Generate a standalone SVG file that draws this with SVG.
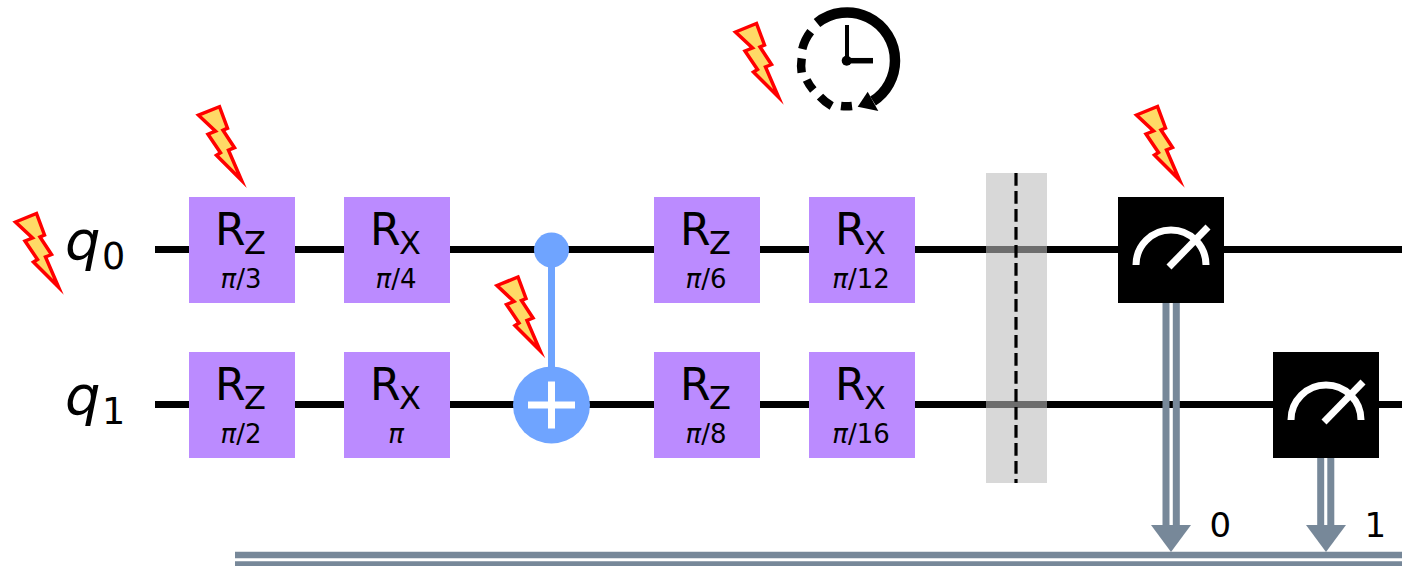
<svg xmlns="http://www.w3.org/2000/svg" width="1402" height="566" viewBox="0 0 1402 566">
<style>
text{font-family:"DejaVu Sans",sans-serif;fill:#000}
.wire{stroke:#000;stroke-width:7;fill:none}
.gate{fill:#BB8BFF}
.r{font-size:44px}
.z{font-size:32px}
.p{font-size:26px;text-anchor:middle;font-style:italic}
.pn{font-style:normal}
.q{font-size:56px;font-style:italic}
.s{font-size:36.500px}
.cl{stroke:#778899;fill:none}
.c{font-size:34px}
.bolt{fill:#FFD966;stroke:#FF0000;stroke-width:3.500;stroke-miterlimit:14}
.m{fill:#000}
.mi{stroke:#fff;stroke-width:7;fill:none}
.ck{stroke:#000;fill:none}
</style>
<defs>
<polygon id="bolt" class="bolt" points="-48.500,-73.500 -27.500,-82 -19.500,-60.500 -24,-58.500 -12.500,-41 -18.500,-38.500 -5.500,-8.500 -30.500,-33.500 -26.500,-36 -39,-54.500 -31.500,-57.500"/>
<g id="meter">
<rect class="m" x="0" y="0" width="106" height="106"/>
<path class="mi" d="M18 68 A35 35 0 0 1 88 68"/>
<path class="mi" d="M51 70 L90 30"/>
</g>
</defs>
<g id="connectors">
<path class="wire" d="M155 249.500H1402M155 404.500H1402"/>
<path d="M551.500 249V405" stroke="#6FA4FF" stroke-width="7" fill="none"/>
<path class="cl" stroke-width="7" d="M1166 303V525M1176.300 303V525M1320.700 458V525M1330.800 458V525"/>
<path class="cl" stroke-width="6.700" d="M235 555H1402M235 564.700H1402"/>
<polygon fill="#778899" points="1151,525 1191,525 1171,552"/>
<polygon fill="#778899" points="1306,525 1346,525 1326,552"/>
</g>
<g id="q0-label"><text class="q" x="65" y="260">q</text><text class="s" x="102" y="269">0</text></g>
<g id="q1-label"><text class="q" x="65" y="415">q</text><text class="s" x="102" y="424">1</text></g>
<g id="g1"><rect class="gate" x="189" y="197" width="106" height="106"/><text class="r" x="215" y="245">R</text><text class="z" x="244" y="254">Z</text><text class="p" x="241" y="288">π<tspan class="pn">/3</tspan></text></g>
<g id="g2"><rect class="gate" x="344" y="197" width="106" height="106"/><text class="r" x="370" y="245">R</text><text class="z" x="399" y="254">X</text><text class="p" x="396" y="288">π<tspan class="pn">/4</tspan></text></g>
<g id="g3"><rect class="gate" x="189" y="352" width="106" height="106"/><text class="r" x="215" y="400">R</text><text class="z" x="244" y="409">Z</text><text class="p" x="241" y="443">π<tspan class="pn">/2</tspan></text></g>
<g id="g4"><rect class="gate" x="344" y="352" width="106" height="106"/><text class="r" x="370" y="400">R</text><text class="z" x="399" y="409">X</text><text class="p" x="396" y="443">π</text></g>
<g id="cx">
<circle cx="551.500" cy="250" r="17.500" fill="#6FA4FF"/>
<circle cx="551.500" cy="405" r="38.500" fill="#6FA4FF"/>
<path d="M528 405H575M551.500 381.500V428.500" stroke="#fff" stroke-width="7" fill="none"/>
</g>
<g id="g5"><rect class="gate" x="654" y="197" width="106" height="106"/><text class="r" x="680" y="245">R</text><text class="z" x="709" y="254">Z</text><text class="p" x="706" y="288">π<tspan class="pn">/6</tspan></text></g>
<g id="g6"><rect class="gate" x="809" y="197" width="106" height="106"/><text class="r" x="835" y="245">R</text><text class="z" x="864" y="254">X</text><text class="p" x="861" y="288">π<tspan class="pn">/12</tspan></text></g>
<g id="g7"><rect class="gate" x="654" y="352" width="106" height="106"/><text class="r" x="680" y="400">R</text><text class="z" x="709" y="409">Z</text><text class="p" x="706" y="443">π<tspan class="pn">/8</tspan></text></g>
<g id="g8"><rect class="gate" x="809" y="352" width="106" height="106"/><text class="r" x="835" y="400">R</text><text class="z" x="864" y="409">X</text><text class="p" x="861" y="443">π<tspan class="pn">/16</tspan></text></g>
<g id="barrier">
<rect x="986" y="173" width="61" height="310" fill="#BBBBBB" fill-opacity="0.58"/>
<path d="M1016 173V483" stroke="#000" stroke-width="3.200" stroke-dasharray="12.700 5.300" fill="none"/>
</g>
<g id="m0"><use href="#meter" x="1118" y="197"/></g>
<g id="m1"><use href="#meter" x="1273" y="352"/></g>
<g id="clbit0"><text class="c" x="1209.500" y="537">0</text></g>
<g id="clbit1"><text class="c" x="1364.500" y="537">1</text></g>
<g id="noise-q0"><use href="#bolt" x="64" y="295.500"/></g>
<g id="noise-g1"><use href="#bolt" x="247" y="188.700"/></g>
<g id="noise-cx"><use href="#bolt" x="545.500" y="359"/></g>
<g id="noise-delay"><use href="#bolt" x="784" y="105.500"/></g>
<g id="noise-m0"><use href="#bolt" x="1185" y="188.500"/></g>
<g id="clock">
<path class="ck" stroke-width="10.500" d="M817 23 A48 48 0 0 1 895 60.700 A48 48 0 0 1 873 101"/>
<polygon points="857.700,106.700 867.700,91.700 878.300,111" fill="#000"/>
<g class="ck" stroke-width="8.500">
<path d="M810.700 31.700 A46 46 0 0 0 802.300 49"/>
<path d="M801.700 58.300 A46 46 0 0 0 801.700 72.700"/>
<path d="M806.700 80 A46 46 0 0 0 813.300 90"/>
<path d="M820 96.700 A46 46 0 0 0 831.700 106"/>
<path d="M841 106 A46 46 0 0 0 852 106"/>
</g>
<path class="ck" stroke-width="4" d="M847 25V61"/>
<path class="ck" stroke-width="5.500" d="M847 60.700H873"/>
<circle cx="846.700" cy="60.700" r="5" fill="#000"/>
</g>
</svg>
